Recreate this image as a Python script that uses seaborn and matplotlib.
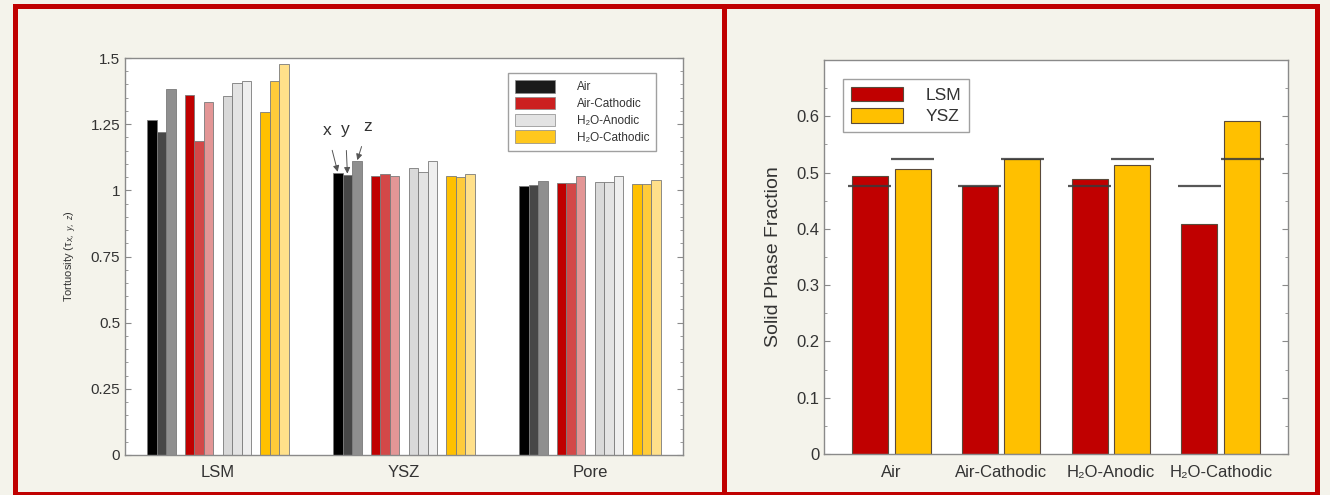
import numpy as np
import pandas as pd
import matplotlib
matplotlib.use("Agg")
import matplotlib.pyplot as plt
import seaborn as sns
from matplotlib.patches import Patch, Rectangle
from matplotlib.ticker import MultipleLocator, FuncFormatter

# ---------------- data ----------------
phases = ["LSM", "YSZ", "Pore"]
conditions = ["Air", "Air-Cathodic", "H\u2082O-Anodic", "H\u2082O-Cathodic"]
directions = ["x", "y", "z"]

# tortuosity per phase (rows: LSM, YSZ, Pore), columns: x, y, z
tau_air = [[1.266, 1.221, 1.381], [1.065, 1.058, 1.109], [1.017, 1.019, 1.037]]
tau_air_cathodic = [[1.360, 1.185, 1.333], [1.055, 1.060, 1.053], [1.027, 1.027, 1.055]]
tau_h2o_anodic = [[1.356, 1.404, 1.414], [1.085, 1.070, 1.110], [1.031, 1.031, 1.053]]
tau_h2o_cathodic = [[1.296, 1.414, 1.476], [1.054, 1.050, 1.063], [1.025, 1.025, 1.039]]

tortuosity_yticks = [0, 0.25, 0.5, 0.75, 1, 1.25, 1.5]

fraction_categories = ["Air", "Air-Cathodic", "H\u2082O-Anodic", "H\u2082O-Cathodic"]
lsm_fraction = [0.494, 0.476, 0.488, 0.409]
ysz_fraction = [0.507, 0.524, 0.513, 0.591]
lsm_reference = 0.476
ysz_reference = 0.524
fraction_yticks = [0, 0.1, 0.2, 0.3, 0.4, 0.5, 0.6]

# ---------------- styles ----------------
cond_colors = {
    conditions[0]: ["#000000", "#474747", "#8f8f8f"],
    conditions[1]: ["#c00000", "#d34848", "#e39696"],
    conditions[2]: ["#d9d9d9", "#e3e3e3", "#efefef"],
    conditions[3]: ["#ffc000", "#ffcb3a", "#ffe08a"],
}
legend_colors = ["#1a1a1a", "#cc2020", "#e3e3e3", "#ffc81e"]
LSM_C, YSZ_C = "#c00000", "#ffc000"
BG = "#f4f3eb"
FRAME_RED = "#c00000"
TXT = "#333333"
SPINE = "#8a8a8a"

sns.set_style("ticks")
plt.rcParams["font.family"] = ["Liberation Sans", "DejaVu Sans"]
plt.rcParams["text.color"] = TXT
plt.rcParams["axes.labelcolor"] = TXT
plt.rcParams["xtick.color"] = SPINE
plt.rcParams["ytick.color"] = SPINE
plt.rcParams["xtick.labelcolor"] = TXT
plt.rcParams["ytick.labelcolor"] = TXT

W, H = 1330, 495
fig = plt.figure(figsize=(W / 100, H / 100), dpi=100, facecolor=BG)

def px_axes(x0, y0, x1, y1):
    return fig.add_axes([x0 / W, 1 - y1 / H, (x1 - x0) / W, (y1 - y0) / H])

# ---------------- left: tortuosity ----------------
tau_sets = [tau_air, tau_air_cathodic, tau_h2o_anodic, tau_h2o_cathodic]
rows = []
hue_order = []
palette = {}
for ci, cond in enumerate(conditions):
    for di, d in enumerate(directions):
        key = f"{cond} {d}"
        hue_order.append(key)
        palette[key] = cond_colors[cond][di]
        for pi, ph in enumerate(phases):
            rows.append({"phase": ph, "key": key, "tau": tau_sets[ci][pi][di]})
    if ci < len(conditions) - 1:
        spacer = f"_gap{ci}"
        hue_order.append(spacer)
        palette[spacer] = "#ffffff"
df_tau = pd.DataFrame(rows)

ax1 = px_axes(125, 58, 683, 455)
sns.barplot(data=df_tau, x="phase", y="tau", hue="key", hue_order=hue_order,
            order=phases, palette=palette, saturation=1, width=0.76, gap=0,
            edgecolor="#7a7a7a", linewidth=0.6, errorbar=None, legend=False, ax=ax1)
ax1.set_xlim(-0.5, 2.5)
ax1.set_ylim(0, 1.5)
ax1.set_yticks(tortuosity_yticks)
ax1.yaxis.set_major_formatter(FuncFormatter(lambda v, p: f"{v:g}"))
ax1.yaxis.set_minor_locator(MultipleLocator(0.05))
ax1.set_xlabel("")
ax1.set_ylabel("Tortuosity (\u03c4$_{x,\\ y,\\ z}$)", fontsize=8, labelpad=8)
ax1.tick_params(axis="y", which="both", direction="in", right=True, labelsize=11)
ax1.tick_params(axis="y", which="major", length=4)
ax1.tick_params(axis="y", which="minor", length=2)
ax1.tick_params(axis="x", length=0, labelsize=12, pad=7)
for s in ax1.spines.values():
    s.set_color(SPINE)
    s.set_linewidth(1)

# x, y, z arrows on YSZ / Air bars
ysz_bars = sorted([p for p in ax1.patches if 0.5 < p.get_x() + p.get_width() / 2 < 1.5
                   and p.get_height() > 0], key=lambda p: p.get_x())[:3]
offsets = [(-11, 43), (-2, 45), (11, 35)]
for d, p, off in zip(directions, ysz_bars, offsets):
    ax1.annotate(d, xy=(p.get_x() + p.get_width() / 2, p.get_height()),
                 xytext=off, textcoords="offset pixels", ha="center", va="center",
                 fontsize=12.5, color=TXT,
                 arrowprops=dict(arrowstyle="-|>", color="#555555", lw=0.7,
                                 shrinkA=7, shrinkB=1, mutation_scale=9))

handles = [Patch(facecolor=c, edgecolor="#888888", linewidth=0.5) for c in legend_colors]
leg1 = ax1.legend(handles, conditions, loc="upper right", bbox_to_anchor=(0.952, 0.962),
                  borderaxespad=0, fontsize=8.5, fancybox=False, frameon=True,
                  handlelength=3.4, handleheight=1.25, labelspacing=0.3,
                  handletextpad=1.8, borderpad=0.6)
leg1.get_frame().set_edgecolor("#888888")
leg1.get_frame().set_linewidth(1)

# ---------------- right: solid phase fraction ----------------
df_frac = pd.DataFrame({
    "condition": fraction_categories * 2,
    "phase": ["LSM"] * 4 + ["YSZ"] * 4,
    "fraction": lsm_fraction + ysz_fraction,
})
ax2 = px_axes(824, 60, 1288, 454)
sns.barplot(data=df_frac, x="condition", y="fraction", hue="phase",
            order=fraction_categories, hue_order=["LSM", "YSZ"],
            palette={"LSM": LSM_C, "YSZ": YSZ_C}, saturation=1, width=0.78, gap=0.16,
            edgecolor="#5a4a3a", linewidth=0.8, errorbar=None, legend=False, ax=ax2)
ax2.set_xlim(-0.61, 3.61)
ax2.set_ylim(0, 0.7)
ax2.set_yticks(fraction_yticks)
ax2.yaxis.set_major_formatter(FuncFormatter(lambda v, p: f"{v:g}"))
ax2.yaxis.set_minor_locator(MultipleLocator(0.05))
ax2.set_xlabel("")
ax2.set_ylabel("Solid Phase Fraction", fontsize=14, labelpad=10)
ax2.tick_params(axis="y", which="both", direction="in", right=True, labelsize=12)
ax2.tick_params(axis="y", which="major", length=4)
ax2.tick_params(axis="y", which="minor", length=2)
ax2.tick_params(axis="x", length=0, labelsize=12, pad=8)
for s in ax2.spines.values():
    s.set_color(SPINE)
    s.set_linewidth(1)

bars2 = sorted([p for p in ax2.patches if p.get_height() > 0], key=lambda p: p.get_x())
refs = [lsm_reference, ysz_reference]
pad = 0.035
for i, p in enumerate(bars2):
    ax2.hlines(refs[i % 2], p.get_x() - pad, p.get_x() + p.get_width() + pad,
               color="#3a3a3a", lw=1.6, alpha=0.85, zorder=5)

h2 = [Patch(facecolor=LSM_C, edgecolor="#5a4a3a", linewidth=0.8),
      Patch(facecolor=YSZ_C, edgecolor="#5a4a3a", linewidth=0.8)]
leg2 = ax2.legend(h2, ["LSM", "YSZ"], loc="upper left", bbox_to_anchor=(0.041, 0.952),
                  borderaxespad=0, fontsize=12.5, fancybox=False, frameon=True,
                  handlelength=3.0, handleheight=0.9, labelspacing=0.3,
                  handletextpad=1.3, borderpad=0.45)
leg2.get_frame().set_edgecolor("#888888")
leg2.get_frame().set_linewidth(1)

# ---------------- red frame ----------------
def red_rect(x0, y0, x1, y1):
    fig.add_artist(Rectangle((x0 / W, 1 - y1 / H), (x1 - x0) / W, (y1 - y0) / H,
                             transform=fig.transFigure, facecolor=FRAME_RED,
                             edgecolor="none", zorder=10))

red_rect(13, 4, 1320, 9)      # top
red_rect(13, 4, 18, 495)      # left
red_rect(722, 4, 727, 495)    # divider
red_rect(1315, 4, 1320, 495)  # right
red_rect(13, 492, 1320, 495)  # bottom

fig.savefig("out.png", dpi=100, facecolor=BG)
